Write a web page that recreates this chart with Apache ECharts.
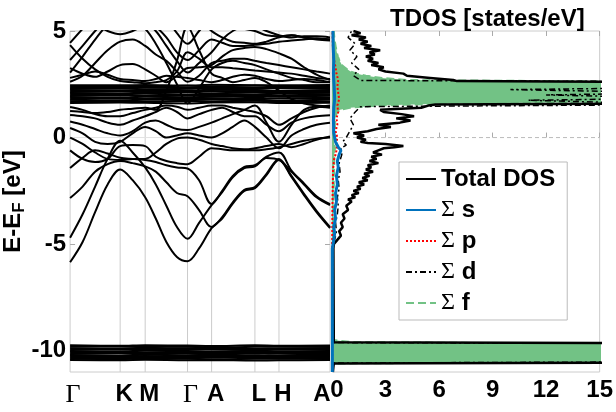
<!DOCTYPE html>
<html>
<head>
<meta charset="utf-8">
<title>Bands + TDOS</title>
<script src="https://cdn.jsdelivr.net/npm/echarts@6/dist/echarts.min.js"></script>
<style>html,body{margin:0;padding:0;background:#fff;}</style>
</head>
<body>
<div id="main" style="width:616px;height:412px;"></div>
<script type="text/javascript">

// k path (distance along path), high-symmetry points and their labels
var kPoints = [0,13,26,39,52,65,78,89,100,111,122,134,147,158,169,181,192,204,217,230,243,256,270];
var kSym = [0,52,78,122,147,192,217,270];
var kNames = ['Γ','K','M','Γ','A','L','H','A'];
var eTicks = [-10,-5,0,5];
var eMin = -11, eMax = 5;

// dispersive bands, one value per kPoints entry (eV)
var bands = [
  [-5.85,-4.9,-3.5,-2.2,-1.5,-2.0,-2.8,-3.8,-4.9,-5.6,-5.8,-5.2,-4.25,-3.8,-3.1,-2.5,-2.37,-1.76,-1.05,-1.85,-2.7,-3.5,-4.25],
  [-4.7,-3.6,-2.3,-1.0,-0.15,-0.7,-1.4,-2.2,-3.2,-4.2,-4.75,-4.0,-3.17,-2.56,-1.86,-1.43,-1.35,-0.96,-1.05,-1.6,-2.2,-2.8,-3.17],
  [-2.84,-2.3,-1.6,-1.25,-1.1,-1.2,-1.35,-1.6,-2.1,-2.6,-2.75,-3.4,-4.2,-3.74,-3.04,-2.45,-2.32,-1.7,-1.0,-1.8,-2.64,-3.44,-4.2],
  [-1.43,-0.95,-0.6,-0.75,-0.95,-1.0,-1.05,-1.15,-1.3,-1.4,-1.45,-2.0,-3.12,-2.5,-1.8,-1.38,-1.3,-0.9,-0.7,-1.55,-2.15,-2.75,-3.12],
  [-0.6,-1.0,-1.15,-1.0,-0.4,-0.35,-0.4,-0.9,-1.1,-1.2,-1.25,-0.9,-0.5,-0.55,-0.6,-0.6,-0.6,-0.55,-0.45,-0.3,-0.15,-0.05,0.0],
  [0.0,-0.3,-0.7,-1.0,-1.05,-1.0,-1.0,-0.7,-0.3,-0.05,0.0,-0.1,-0.3,-0.4,-0.5,-0.55,-0.5,-0.4,-0.3,-0.45,-0.3,-0.1,0.05],
  [0.45,0.2,-0.2,-0.3,-0.2,0.2,0.5,0.3,0.0,0.1,0.2,0.1,0.0,0.2,0.5,0.8,0.5,0.0,-0.5,0.1,0.4,0.6,0.7],
  [0.75,0.6,0.4,0.2,0.1,0.3,0.7,0.8,0.6,0.4,0.35,0.5,0.7,0.9,1.1,1.3,1.5,0.7,-0.2,0.6,1.3,1.45,1.4],
  [1.06,1.0,0.9,0.7,0.6,0.8,1.0,1.2,1.4,1.2,0.9,1.1,1.3,1.4,1.2,1.0,1.0,0.6,0.3,0.7,0.9,1.0,1.05],
  [1.43,1.3,1.1,1.0,1.0,1.15,1.3,1.4,1.5,1.45,1.3,1.4,1.5,1.5,1.4,1.3,1.2,1.0,0.6,0.9,1.2,1.4,1.5],
  [2.8,2.95,3.1,2.95,2.75,2.7,2.65,2.75,2.9,2.85,2.8,2.7,2.6,2.7,2.85,2.95,2.9,2.75,2.65,2.7,2.75,2.7,2.6],
  [3.26,3.0,2.85,3.1,3.4,3.45,3.2,2.9,2.6,2.9,3.26,3.3,3.4,3.8,4.1,4.2,4.25,4.15,3.95,3.7,3.3,2.95,2.7],
  [3.64,4.3,5.0,5.6,5.9,5.7,5.5,5.2,4.7,4.0,3.64,4.1,4.6,4.45,4.3,4.3,4.35,4.4,4.5,4.55,4.6,4.65,4.6],
  [4.34,3.7,3.2,2.85,2.65,2.6,2.55,2.6,2.7,3.1,4.0,3.7,3.3,3.3,3.25,3.2,3.15,3.1,3.05,3.0,2.9,2.8,2.75],
  [4.44,5.1,5.7,6.0,6.0,6.0,6.0,6.0,5.6,4.9,4.4,5.0,5.6,5.4,5.2,5.1,5.0,4.8,4.75,4.8,4.7,4.6,4.55],
  [5.5,5.4,5.3,5.4,5.6,5.4,5.1,4.4,3.5,2.5,1.6,2.3,3.2,3.5,3.6,3.5,3.4,3.2,3.0,2.8,2.7,2.6,2.6],
  [1.25,1.2,1.15,1.2,1.3,1.35,1.4,1.3,2.2,3.6,5.2,4.1,3.0,2.8,2.6,2.7,2.8,2.6,2.2,1.8,1.6,1.5,1.45],
  [3.05,3.8,4.6,5.3,5.7,5.6,5.4,5.0,4.3,3.6,3.05,3.5,4.0,4.6,5.0,5.2,5.2,5.0,4.8,4.7,4.75,4.75,4.7],
  [5.8,5.6,5.3,5.0,4.85,5.0,5.3,5.6,5.8,6.0,6.0,5.6,5.0,4.7,4.5,4.45,4.4,4.5,4.7,4.8,4.7,4.65,4.6],
  [2.62,2.9,3.5,4.1,4.5,4.6,4.3,3.9,3.6,3.1,2.62,2.9,3.5,3.6,3.7,3.7,3.6,3.5,3.4,3.3,3.2,3.1,3.0]
];

// flat bands, one value per kSym entry (eV)
var flatBands = [
  [1.62,1.65,1.63,1.60,1.64,1.66,1.62,1.63],
  [1.70,1.72,1.68,1.71,1.69,1.73,1.70,1.68],
  [1.77,1.75,1.78,1.76,1.79,1.76,1.74,1.77],
  [1.83,1.85,1.82,1.86,1.84,1.81,1.84,1.85],
  [1.90,1.88,1.91,1.89,1.92,1.90,1.93,1.89],
  [1.96,1.98,1.95,1.97,1.95,1.99,1.96,1.97],
  [2.02,2.03,2.05,2.01,2.04,2.02,2.06,2.03],
  [2.09,2.07,2.10,2.11,2.08,2.12,2.09,2.10],
  [2.15,2.17,2.14,2.16,2.18,2.15,2.17,2.16],
  [2.22,2.20,2.23,2.21,2.24,2.22,2.20,2.23],
  [2.28,2.30,2.27,2.29,2.31,2.28,2.32,2.29],
  [2.34,2.36,2.35,2.33,2.37,2.35,2.34,2.36],
  [2.40,2.42,2.39,2.43,2.41,2.44,2.40,2.42],
  [2.46,2.45,2.47,2.44,2.48,2.46,2.45,2.47],
  [-9.75,-9.77,-9.74,-9.76,-9.78,-9.75,-9.77,-9.76],
  [-9.82,-9.80,-9.83,-9.81,-9.84,-9.82,-9.80,-9.83],
  [-9.88,-9.90,-9.87,-9.89,-9.88,-9.91,-9.89,-9.88],
  [-9.95,-9.93,-9.96,-9.94,-9.95,-9.97,-9.94,-9.96],
  [-10.01,-10.03,-10.00,-10.02,-10.04,-10.01,-10.03,-10.02],
  [-10.07,-10.06,-10.09,-10.08,-10.06,-10.10,-10.07,-10.08],
  [-10.14,-10.12,-10.15,-10.13,-10.16,-10.14,-10.12,-10.15],
  [-10.20,-10.22,-10.19,-10.21,-10.20,-10.23,-10.21,-10.20],
  [-10.26,-10.27,-10.25,-10.28,-10.26,-10.27,-10.29,-10.26],
  [-10.32,-10.33,-10.31,-10.34,-10.32,-10.30,-10.33,-10.32],
  [-10.38,-10.39,-10.37,-10.38,-10.40,-10.38,-10.37,-10.39],
  [-10.44,-10.45,-10.43,-10.45,-10.44,-10.46,-10.45,-10.44]
];

// DOS curves as [E, states/eV]
var totalDos = [[-11,0.05],[-10.6,0.1],[-10.55,20],[-9.65,20],[-9.6,0.1],[-5.2,0.08],
  [-5.0,0.1],[-4.8,0.3],[-4.6,0.5],[-4.4,0.4],[-4.2,0.6],[-4.0,0.5],[-3.8,0.7],[-3.6,0.6],
  [-3.4,0.9],[-3.2,0.8],[-3.0,1.1],[-2.9,0.9],[-2.8,1.3],[-2.7,1.1],[-2.6,1.5],[-2.5,1.2],
  [-2.4,1.6],[-2.3,1.4],[-2.2,1.8],[-2.1,1.5],[-2.0,2.0],[-1.9,1.7],[-1.8,2.1],[-1.7,1.8],
  [-1.6,2.3],[-1.5,1.9],[-1.4,2.2],[-1.3,2.0],[-1.2,2.6],[-1.1,2.1],[-1.0,2.5],[-0.9,2.2],
  [-0.8,2.8],[-0.7,2.3],[-0.6,2.6],[-0.5,2.9],[-0.45,3.5],[-0.4,4.0],[-0.35,4.1],[-0.3,3.0],
  [-0.25,2.0],[-0.2,1.6],[-0.1,1.9],[0.0,1.4],[0.1,1.8],[0.2,1.2],[0.3,2.0],[0.4,2.5],
  [0.5,3.3],[0.6,2.6],[0.7,3.8],[0.8,4.4],[0.9,3.6],[1.0,4.6],[1.1,3.9],[1.2,2.9],[1.3,2.7],
  [1.4,5.0],[1.5,5.4],[1.55,5.8],[1.6,20],[2.6,20],[2.65,7.0],[2.7,6.8],[2.8,5.5],[2.9,4.2],
  [3.0,4.0],[3.1,3.0],[3.2,2.6],[3.3,2.9],[3.4,2.2],[3.5,2.6],[3.6,2.0],[3.7,2.3],[3.8,1.9],
  [3.9,2.4],[4.0,2.1],[4.1,2.7],[4.2,1.8],[4.3,2.2],[4.4,1.6],[4.5,2.0],[4.6,1.5],[4.7,1.9],
  [4.8,1.1],[4.9,1.6],[5.0,1.2]];
var sDos = [[-11,0.02],[-5.2,0.02],
  [-4.9,0.08],[-4.5,0.15],[-4.2,0.1],[-3.8,0.2],[-3.4,0.15],[-3.0,0.25],[-2.6,0.2],[-2.2,0.3],
  [-1.8,0.25],[-1.4,0.35],[-1.1,0.3],[-0.8,0.4],[-0.6,0.5],[-0.45,0.35],[-0.2,0.2],[0.2,0.1],
  [0.8,0.08],[1.4,0.1],[1.8,0.15],[2.4,0.12],[3.0,0.08],[3.6,0.1],[4.2,0.07],[5,0.05]];
var pDos = [[-11,0.01],[-5,0.01],[-3,0.03],[-1.5,0.06],[-1.0,0.12],[-0.8,0.2],[-0.5,0.28],
  [-0.3,0.22],[0,0.3],[0.3,0.2],[0.6,0.3],[0.9,0.25],[1.2,0.35],[1.5,0.3],[1.8,0.4],[2.1,0.35],
  [2.4,0.3],[2.7,0.35],[3.0,0.25],[3.3,0.2],[3.6,0.12],[4.0,0.06],[4.5,0.04],[5,0.03]];
var dDos = [[-11,0.02],[-10.58,0.05],[-10.52,20],[-9.66,20],[-9.62,0.05],[-5.2,0.05],[-4.8,0.15],
  [-4.4,0.25],[-4.0,0.2],[-3.6,0.3],[-3.2,0.35],[-2.8,0.3],[-2.4,0.4],[-2.0,0.35],[-1.6,0.45],
  [-1.2,0.4],[-0.8,0.55],[-0.5,0.5],[-0.35,0.8],[-0.2,0.6],[0.0,0.8],[0.3,1.0],[0.6,1.2],
  [0.9,1.0],[1.2,1.3],[1.45,1.6],[1.55,20],[1.75,11],[1.85,20],[2.0,12],[2.1,20],[2.25,10],
  [2.35,20],[2.62,20],[2.68,1.6],[2.9,1.2],[3.2,1.5],[3.5,1.1],[3.8,1.4],[4.1,1.0],[4.4,1.3],
  [4.7,0.9],[5,1.1]];
// f DOS on a 0.1 eV grid from -11 to 5
var fDos = [
  0.02,0.02,0.02,0.02,0.3,20,20,20,20,20,
  20,20,20,20,1.2,0.05,0.03,0.03,0.03,0.03,
  0.03,0.03,0.03,0.03,0.03,0.03,0.03,0.03,0.03,0.03,
  0.03,0.03,0.03,0.03,0.03,0.03,0.03,0.03,0.03,0.03,
  0.03,0.03,0.03,0.03,0.03,0.03,0.03,0.03,0.03,0.03,
  0.03,0.03,0.03,0.03,0.03,0.03,0.03,0.04,0.04,0.04,
  0.05,0.05,0.06,0.05,0.06,0.07,0.06,0.07,0.06,0.07,
  0.07,0.08,0.07,0.08,0.07,0.08,0.09,0.08,0.09,0.08,
  0.09,0.08,0.09,0.10,0.09,0.10,0.09,0.10,0.11,0.10,
  0.10,0.11,0.10,0.12,0.11,0.12,0.11,0.12,0.13,0.12,
  0.13,0.12,0.14,0.13,0.15,0.17,0.14,0.13,0.14,0.13,
  0.14,0.15,0.14,0.16,0.15,0.17,0.16,0.18,0.17,0.19,
  0.2,0.24,0.3,0.45,1.0,2.6,6.5,20,20,20,
  20,20,20,20,20,20,20,4.2,2.8,1.9,
  1.4,1.05,0.85,0.7,0.55,0.5,0.42,0.38,0.33,0.3,
  0.27,0.25,0.22,0.2,0.18,0.16,0.15,0.13,0.12,0.11,0.1
];
var eGrid = [];
for (var i = 0; i < fDos.length; i++) eGrid.push((eMin + i * 0.1).toFixed(1));

var font = "'Liberation Sans', Arial, Helvetica, sans-serif";
var serif = "'Liberation Serif', 'Times New Roman', serif";
var green = '#72c285';
var guide = '#cccccc';

var myChart = echarts.init(document.getElementById('main'));

var series = [];
// vertical lines at the high-symmetry points and the Fermi level
kSym.slice(1, -1).forEach(function (k) {
    series.push({type: 'line', xAxisIndex: 0, yAxisIndex: 0, data: [[k, eMin], [k, eMax]],
        symbol: 'none', silent: true, lineStyle: {color: guide, width: 1}, z: 1});
});
series.push({type: 'line', xAxisIndex: 0, yAxisIndex: 0, data: [[kSym[0], 0], [kSym[kSym.length - 1], 0]],
    symbol: 'none', silent: true, lineStyle: {color: '#e2e2e2', width: 1}, z: 1});
series.push({type: 'line', xAxisIndex: 1, yAxisIndex: 2, data: [[0, 0], [15, 0]],
    symbol: 'none', silent: true, lineStyle: {color: '#bbbbbb', width: 1, type: [4, 3]}, z: 1});

bands.forEach(function (b) {
    series.push({type: 'line', xAxisIndex: 0, yAxisIndex: 0, smooth: 0.35, symbol: 'none', silent: true,
        data: kPoints.map(function (k, i) { return [k, b[i]]; }),
        lineStyle: {color: '#000', width: 2}, z: 2});
});
flatBands.forEach(function (b) {
    series.push({type: 'line', xAxisIndex: 0, yAxisIndex: 0, smooth: 0.35, symbol: 'none', silent: true,
        data: kSym.map(function (k, i) { return [k, b[i]]; }),
        lineStyle: {color: '#000', width: 2}, z: 2});
});

function flip(arr) { return arr.map(function (p) { return [p[1], p[0]]; }); }

series.push({name: 'Σ f', type: 'line', xAxisIndex: 1, yAxisIndex: 3, data: fDos, symbol: 'none',
    lineStyle: {color: green, width: 2, type: 'dashed'}, areaStyle: {color: green, opacity: 1}, z: 2});
series.push({name: 'Total DOS', type: 'line', xAxisIndex: 1, yAxisIndex: 2, data: flip(totalDos), symbol: 'none',
    lineStyle: {color: '#000', width: 2.5}, z: 3});
series.push({name: 'Σ d', type: 'line', xAxisIndex: 1, yAxisIndex: 2, data: flip(dDos), symbol: 'none',
    lineStyle: {color: '#000', width: 1.5, type: [6, 3, 2, 3]}, z: 4});
series.push({name: 'Σ p', type: 'line', xAxisIndex: 1, yAxisIndex: 2, data: flip(pDos), symbol: 'none',
    lineStyle: {color: '#ff0000', width: 2, type: 'dotted'}, z: 5});
series.push({name: 'Σ s', type: 'line', xAxisIndex: 1, yAxisIndex: 2, data: flip(sDos), symbol: 'none',
    lineStyle: {color: '#0072bd', width: 3}, z: 6});

var labelFont = {color: '#000', fontSize: 24, fontWeight: 'bold', fontFamily: font};

var option = {
    animation: false,
    backgroundColor: '#fff',
    title: {
        text: 'TDOS [states/eV]', left: 385, top: 2,
        textStyle: {color: '#000', fontSize: 24, fontWeight: 'bold', fontFamily: font}
    },
    legend: {
        data: ['Total DOS', 'Σ s', 'Σ p', 'Σ d', 'Σ f'],
        orient: 'vertical', left: 399, top: 162,
        selectedMode: false,
        icon: 'inherit',
        itemStyle: {opacity: 0},
        backgroundColor: '#fff', borderColor: '#bbbbbb', borderWidth: 1, borderRadius: 0,
        padding: [5, 12, 5, 6],
        itemWidth: 30, itemHeight: 12, itemGap: 7,
        textStyle: {color: '#000', fontSize: 24, fontWeight: 'bold', fontFamily: font,
            rich: {sig: {fontFamily: serif, fontWeight: 'normal', fontSize: 24, color: '#000'}}},
        formatter: function (name) {
            return name.charAt(0) === 'Σ' ? '{sig|Σ}' + name.slice(1) : name;
        }
    },
    grid: [
        {left: 60, top: 31, width: 270, height: 341, show: true, borderColor: guide, borderWidth: 1},
        {left: 332, top: 31, width: 270, height: 341, show: true, borderColor: guide, borderWidth: 1}
    ],
    xAxis: [
        {gridIndex: 0, type: 'value', min: kSym[0], max: kSym[kSym.length - 1],
            axisLine: {show: false}, axisTick: {show: false}, splitLine: {show: false},
            axisLabel: {customValues: kSym, margin: 10,
                formatter: function (v) {
                    var idx = kSym.indexOf(v);
                    var n = kNames[idx];
                    if (idx === kSym.length - 1) return '{e|' + n + '}';
                    return n === 'Γ' ? '{g|Γ}' : '{n|' + n + '}';
                },
                rich: {g: {fontFamily: serif, fontSize: 26, fontWeight: 'normal', color: '#000', padding: [0, 0, 0, 6]},
                       n: {color: '#000', fontSize: 24, fontWeight: 'bold', fontFamily: font, padding: [0, 0, 0, 8]},
                       e: {color: '#000', fontSize: 24, fontWeight: 'bold', fontFamily: font, padding: [0, 16, 0, 0]}}}},
        {gridIndex: 1, type: 'value', min: 0, max: 15, interval: 3,
            axisLine: {show: false}, splitLine: {show: false},
            axisTick: {inside: true, length: 5, lineStyle: {color: '#aaa'}},
            axisLabel: {margin: 6,
                formatter: function (v) { return v === 0 ? '{z|0}' : '{n|' + v + '}'; },
                rich: {n: labelFont,
                       z: {color: '#000', fontSize: 24, fontWeight: 'bold', fontFamily: font, padding: [0, 0, 0, 10]}}}},
        {gridIndex: 1, type: 'value', min: 0, max: 15, interval: 3, position: 'top',
            axisLine: {show: false}, splitLine: {show: false}, axisLabel: {show: false},
            axisTick: {inside: true, length: 5, lineStyle: {color: '#aaa'}}}
    ],
    yAxis: [
        {gridIndex: 0, type: 'value', min: eMin, max: eMax,
            axisLine: {show: false}, splitLine: {show: false},
            axisTick: {customValues: eTicks, inside: true, length: 5, lineStyle: {color: '#aaa'}},
            axisLabel: {customValues: eTicks, margin: 4, color: '#000', fontSize: 24, fontWeight: 'bold', fontFamily: font},
            name: '{n|E-E}{sub|F}{n| [eV]}', nameLocation: 'middle', nameGap: 26, nameRotate: 90,
            nameTextStyle: {rich: {n: labelFont,
                sub: {color: '#000', fontSize: 17, fontWeight: 'bold', fontFamily: font, padding: [12, 0, 0, 0]}}}},
        {gridIndex: 0, type: 'value', min: eMin, max: eMax, position: 'right',
            axisLine: {show: false}, splitLine: {show: false}, axisLabel: {show: false},
            axisTick: {customValues: eTicks, inside: true, length: 5, lineStyle: {color: '#aaa'}}},
        {gridIndex: 1, type: 'value', min: eMin, max: eMax,
            axisLine: {show: false}, splitLine: {show: false}, axisLabel: {show: false},
            axisTick: {show: false}},
        {gridIndex: 1, type: 'category', data: eGrid, boundaryGap: false, show: false}
    ],
    series: series
};

myChart.setOption(option);

</script>
</body>
</html>
